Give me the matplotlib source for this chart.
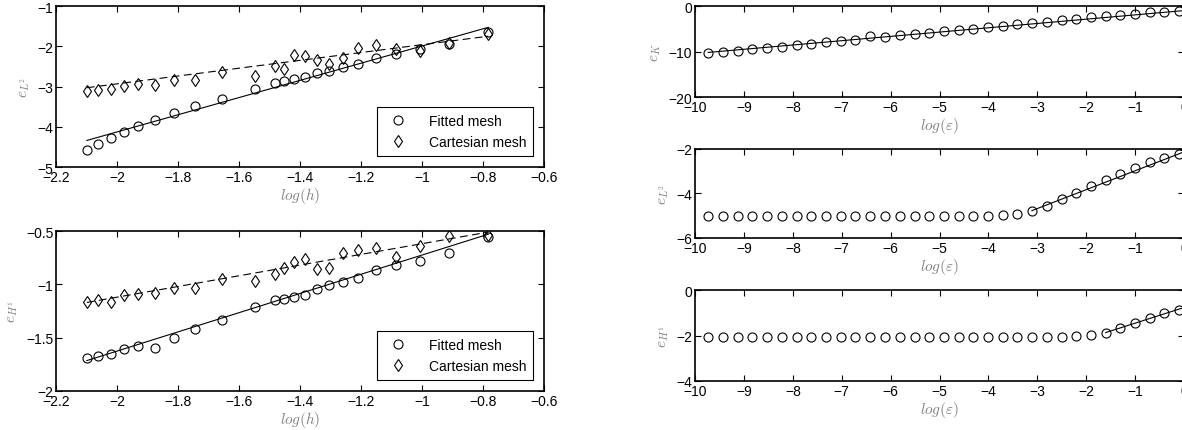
import numpy as np
import matplotlib
matplotlib.use('Agg')
import matplotlib.pyplot as plt
from matplotlib.ticker import FuncFormatter

plt.rcParams['font.family'] = ['Liberation Sans', 'DejaVu Sans']
plt.rcParams['mathtext.fontset'] = 'cm'
plt.rcParams['axes.unicode_minus'] = True

# left column: error vs mesh size
logh = [-2.099, -2.061, -2.021, -1.978, -1.930, -1.877, -1.814, -1.743, -1.657, -1.547,
        -1.481, -1.452, -1.419, -1.384, -1.346, -1.306, -1.259, -1.209, -1.151, -1.085,
        -1.007, -0.911, -0.783]
L2_fitted = [-4.58, -4.42, -4.28, -4.12, -3.97, -3.84, -3.66, -3.49, -3.30, -3.05,
             -2.92, -2.86, -2.82, -2.77, -2.66, -2.61, -2.52, -2.43, -2.28, -2.19,
             -2.08, -1.95, -1.64]
L2_cart = [-3.12, -3.09, -3.05, -2.99, -2.93, -2.97, -2.84, -2.83, -2.65, -2.73,
           -2.50, -2.57, -2.22, -2.25, -2.33, -2.45, -2.28, -2.05, -1.98, -2.07,
           -2.12, -1.91, -1.69]
H1_fitted = [-1.69, -1.67, -1.65, -1.61, -1.58, -1.60, -1.50, -1.42, -1.33, -1.21,
             -1.15, -1.14, -1.12, -1.10, -1.04, -1.01, -0.98, -0.94, -0.87, -0.82,
             -0.78, -0.71, -0.56]
H1_cart = [-1.17, -1.15, -1.17, -1.10, -1.09, -1.08, -1.03, -1.03, -0.95, -0.97,
           -0.90, -0.85, -0.79, -0.76, -0.86, -0.85, -0.71, -0.68, -0.66, -0.74,
           -0.64, -0.55, -0.54]
fit_h = [-2.099, -0.783]
L2_fit_fitted = [-4.34, -1.53]
L2_fit_cart = [-3.03, -1.75]
H1_fit_fitted = [-1.715, -0.53]
H1_fit_cart = [-1.17, -0.51]

# right column: error vs epsilon
logeps = [-9.73, -9.43, -9.13, -8.83, -8.53, -8.22, -7.92, -7.62, -7.32, -7.02,
          -6.72, -6.42, -6.12, -5.81, -5.51, -5.21, -4.91, -4.61, -4.31, -4.01,
          -3.71, -3.41, -3.11, -2.80, -2.50, -2.20, -1.90, -1.60, -1.30, -1.00,
          -0.70, -0.40, -0.10]
eK = [-10.3, -10.1, -9.8, -9.5, -9.2, -8.9, -8.6, -8.3, -8.0, -7.7,
      -7.4, -6.6, -6.7, -6.4, -6.2, -5.9, -5.5, -5.3, -5.0, -4.6,
      -4.35, -4.06, -3.76, -3.47, -3.17, -2.88, -2.5, -2.2, -1.9, -1.77,
      -1.4, -1.25, -1.1]
eL2 = [-5.0, -5.0, -5.0, -5.0, -5.0, -5.0, -5.0, -5.0, -5.0, -5.0,
       -5.0, -5.0, -5.0, -5.0, -5.0, -5.0, -5.0, -5.0, -5.0, -5.0,
       -4.97, -4.92, -4.77, -4.55, -4.26, -3.98, -3.68, -3.39, -3.11, -2.85,
       -2.6, -2.4, -2.22]
eH1 = [-2.05, -2.05, -2.05, -2.05, -2.05, -2.05, -2.05, -2.05, -2.05, -2.05,
       -2.05, -2.05, -2.05, -2.05, -2.05, -2.05, -2.05, -2.05, -2.05, -2.05,
       -2.05, -2.05, -2.05, -2.05, -2.05, -2.04, -1.97, -1.87, -1.66, -1.44,
       -1.21, -1.03, -0.88]
fitK_x = [-9.73, 0.0]
fitK_y = [-10.2, -1.0]
fitL2_x = [-3.11, 0.0]
fitL2_y = [-4.77, -2.13]
fitH1_x = [-1.60, 0.0]
fitH1_y = [-1.87, -0.77]


def fmt(v, pos):
    return ('%g' % v).replace('-', '\u2212')


def style(ax):
    ax.tick_params(direction='in', top=True, right=True, labelsize=10, length=4, width=0.8, pad=2)
    for s in ax.spines.values():
        s.set_linewidth(1.2)
    ax.xaxis.set_major_formatter(FuncFormatter(fmt))
    ax.yaxis.set_major_formatter(FuncFormatter(fmt))


fig = plt.figure(figsize=(11.82, 4.31), dpi=100)
gray = '#808080'
mk = dict(markersize=6.5, markerfacecolor='none', markeredgecolor='k', markeredgewidth=0.8, linestyle='none')

left_panels = [
    ([0.0474, 0.6102, 0.4129, 0.3735], L2_fitted, L2_cart, L2_fit_fitted, L2_fit_cart,
     (-5, -1), np.arange(-5, -0.5, 1), r'$e_{L^2}$'),
    ([0.0474, 0.0905, 0.4129, 0.3712], H1_fitted, H1_cart, H1_fit_fitted, H1_fit_cart,
     (-2, -0.5), np.arange(-2, -0.25, 0.5), r'$e_{H^1}$'),
]
for pos, yf, yc, ff, fc, ylim, yt, lab in left_panels:
    ax = fig.add_axes(pos)
    ax.plot(fit_h, ff, color='k', lw=0.8)
    ax.plot(fit_h, fc, color='k', lw=0.8, linestyle=(0, (7, 4)))
    ax.plot(logh, yf, marker='o', label='Fitted mesh', **mk)
    ax.plot(logh, yc, marker='d', label='Cartesian mesh', **mk)
    ax.set_xlim(-2.2, -0.6)
    ax.set_ylim(*ylim)
    ax.set_xticks(np.arange(-2.2, -0.55, 0.2))
    ax.set_yticks(yt)
    style(ax)
    ax.set_xlabel(r'$log(h)$', color=gray, fontsize=11, labelpad=1)
    ax.set_ylabel(lab, color=gray, fontsize=11, labelpad=4)
    leg = ax.legend(loc='lower right', fontsize=10, fancybox=False, edgecolor='k',
                    framealpha=1, borderaxespad=0.8, handletextpad=1.2, borderpad=0.5)
    leg.get_frame().set_linewidth(0.8)

right_panels = [
    ([0.588, 0.7726, 0.4137, 0.2111], eK, fitK_x, fitK_y, (-20, 0), [-20, -10, 0], r'$e_K$'),
    ([0.588, 0.4455, 0.4137, 0.2065], eL2, fitL2_x, fitL2_y, (-6, -2), [-6, -4, -2], r'$e_{L^2}$'),
    ([0.588, 0.1137, 0.4137, 0.2111], eH1, fitH1_x, fitH1_y, (-4, 0), [-4, -2, 0], r'$e_{H^1}$'),
]
for pos, yv, fx, fy, ylim, yt, lab in right_panels:
    ax = fig.add_axes(pos)
    ax.plot(fx, fy, color='k', lw=0.8)
    ax.plot(logeps, yv, marker='o', **mk)
    ax.set_xlim(-10, 0)
    ax.set_ylim(*ylim)
    ax.set_xticks(np.arange(-10, 1, 1))
    ax.set_yticks(yt)
    style(ax)
    ax.set_xlabel(r'$log(\varepsilon)$', color=gray, fontsize=11, labelpad=1)
    ax.set_ylabel(lab, color=gray, fontsize=11, labelpad=4)

fig.savefig('out.png', dpi=100)
